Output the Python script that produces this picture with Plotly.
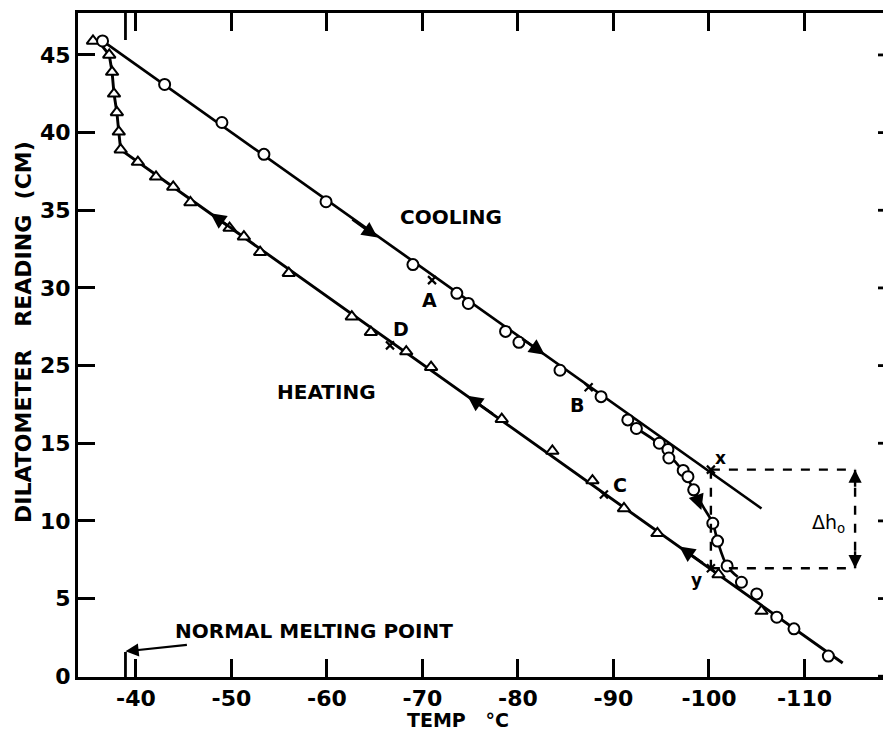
import plotly.graph_objects as go

# ---------------- data ----------------
# y values are in the chart's own vertical units (tick k sits at 5*k); printed tick labels below
y_tickvals = [0, 5, 10, 15, 20, 25, 30, 35, 40]
y_ticktext = ["0", "5", "10", "15", "25", "30", "35", "40", "45"]
x_tickvals = [-40, -50, -60, -70, -80, -90, -100, -110]
x_ticktext = ["-40", "-50", "-60", "-70", "-80", "-90", "-100", "-110"]

# cooling observations (circles)
cool_T = [-36.5, -43.0, -49.0, -53.4, -59.9, -69.0, -73.6, -74.8, -78.7, -80.1, -84.4,
          -88.7, -91.5, -92.4, -94.8, -95.7, -95.8, -97.3, -97.8, -98.4, -100.4, -100.9,
          -101.9, -103.4, -105.0, -107.1, -108.9, -112.5]
cool_h = [40.9, 38.1, 35.65, 33.6, 30.55, 26.5, 24.65, 24.0, 22.2, 21.5, 19.7,
          18.0, 16.5, 15.95, 15.0, 14.6, 14.05, 13.25, 12.85, 12.0, 9.85, 8.7,
          7.1, 6.05, 5.3, 3.8, 3.05, 1.3]

# heating observations (triangles)
heat_T = [-35.5, -37.2, -37.5, -37.7, -38.0, -38.2, -38.4, -40.2, -42.1, -43.9, -45.7,
          -49.8, -51.3, -53.0, -56.0, -62.6, -64.6, -68.3, -70.9, -78.3, -83.6, -87.8,
          -91.1, -94.6, -101.0, -105.5]
heat_h = [40.9, 40.0, 38.9, 37.5, 36.3, 35.05, 33.9, 33.1, 32.15, 31.5, 30.5,
          28.85, 28.3, 27.3, 25.95, 23.15, 22.15, 20.9, 19.9, 16.55, 14.5, 12.6,
          10.8, 9.2, 6.55, 4.2]

# drawn lines
cool_line_T = [-36.5, -105.5]
cool_line_h = [40.9, 10.8]
cool_curve_T = [-92.4, -94.8, -96.2, -97.4, -98.4, -99.4, -100.4, -100.9, -101.9, -103.0]
cool_curve_h = [15.95, 14.95, 14.0, 13.1, 12.0, 10.9, 9.85, 8.7, 7.1, 6.4]
heat_line_T = [-114.0, -38.4, -38.2, -38.0, -37.7, -37.5, -37.2, -36.3]
heat_line_h = [0.85, 33.9, 35.05, 36.3, 37.5, 38.9, 40.0, 40.7]

# labelled points
pt_names = ["A", "B", "C", "D", "x", "y"]
pt_T = [-71.0, -87.4, -89.0, -66.6, -100.2, -100.2]
pt_h = [25.5, 18.6, 11.7, 21.3, 13.3, 6.95]

melting_point = -38.9
box_right_T = -115.3

# direction arrows (tip, tail)
cool_arrows = [(-65.3, 28.25, -62.5, 29.47), (-82.8, 20.7, -80.3, 21.79), (-99.2, 10.7, -98.6, 11.75)]
heat_arrows = [(-47.8, 29.8, -50.5, 28.62), (-74.7, 18.05, -77.5, 16.83), (-96.9, 8.35, -99.5, 7.22)]

FONT = "DejaVu Sans"
fig = go.Figure()

# lines
fig.add_trace(go.Scatter(x=cool_line_T, y=cool_line_h, mode="lines",
                         line=dict(color="black", width=2.7), hoverinfo="skip"))
fig.add_trace(go.Scatter(x=cool_curve_T, y=cool_curve_h, mode="lines",
                         line=dict(color="black", width=2.7, shape="spline"), hoverinfo="skip"))
fig.add_trace(go.Scatter(x=heat_line_T, y=heat_line_h, mode="lines",
                         line=dict(color="black", width=2.9), hoverinfo="skip"))

# markers
fig.add_trace(go.Scatter(x=heat_T, y=heat_h, mode="markers",
                         marker=dict(symbol="triangle-up", size=11, color="white",
                                     line=dict(color="black", width=2))))
fig.add_trace(go.Scatter(x=cool_T, y=cool_h, mode="markers",
                         marker=dict(symbol="circle", size=11, color="white",
                                     line=dict(color="black", width=2))))
fig.add_trace(go.Scatter(x=pt_T, y=pt_h, mode="markers",
                         marker=dict(symbol="x-thin", size=8, color="black",
                                     line=dict(color="black", width=2.2))))

shapes = []
dash = dict(color="black", width=2.4, dash="dash")
shapes.append(dict(type="line", x0=pt_T[4], x1=box_right_T, y0=pt_h[4], y1=pt_h[4], line=dash))
shapes.append(dict(type="line", x0=pt_T[5], x1=box_right_T, y0=pt_h[5], y1=pt_h[5], line=dash))
shapes.append(dict(type="line", x0=pt_T[4], x1=pt_T[4], y0=pt_h[4], y1=pt_h[5], line=dash))
shapes.append(dict(type="line", x0=box_right_T, x1=box_right_T, y0=pt_h[4], y1=pt_h[5], line=dash))
# melting-point ticks (bottom and top)
shapes.append(dict(type="line", x0=melting_point, x1=melting_point, yref="paper", y0=0, y1=25/664,
                   line=dict(color="black", width=2.8)))
shapes.append(dict(type="line", x0=melting_point, x1=melting_point, yref="paper", y0=1, y1=1-27/664,
                   line=dict(color="black", width=2.8)))
# right-side ticks
for v in y_tickvals:
    shapes.append(dict(type="line", xref="paper", x0=1-13/813, x1=1, y0=v, y1=v,
                       line=dict(color="black", width=2.8)))

ann = []
lab_font = dict(family=FONT, size=19, color="black", weight="bold")
small_font = dict(family=FONT, size=17, color="black", weight="bold")
offsets = {"A": (-3, -20), "B": (-12, -18), "C": (16, 10), "D": (11, 16), "x": (10, 12), "y": (-14, -12)}
for n, t, h in zip(pt_names, pt_T, pt_h):
    dx, dy = offsets[n]
    ann.append(dict(x=t, y=h, text=n, showarrow=False, xshift=dx, yshift=dy,
                    xanchor="center", yanchor="middle",
                    font=small_font if n in ("x", "y") else lab_font))

for (tx, ty, sx, sy) in cool_arrows + heat_arrows:
    ann.append(dict(x=tx, y=ty, ax=sx, ay=sy, axref="x", ayref="y", text="", showarrow=True,
                    arrowhead=2, arrowsize=1.2, arrowwidth=2.6, arrowcolor="black"))

# double-headed Δh arrow heads
ann.append(dict(x=box_right_T, y=pt_h[4], ax=box_right_T, ay=pt_h[4] - 1.2, axref="x", ayref="y",
                text="", showarrow=True, arrowhead=2, arrowsize=1.1, arrowwidth=2.4, arrowcolor="black"))
ann.append(dict(x=box_right_T, y=pt_h[5], ax=box_right_T, ay=pt_h[5] + 1.2, axref="x", ayref="y",
                text="", showarrow=True, arrowhead=2, arrowsize=1.1, arrowwidth=2.4, arrowcolor="black"))
ann.append(dict(x=-112.5, y=9.85, text="Δh<sub>o</sub>", showarrow=False,
                xanchor="center", yanchor="middle",
                font=dict(family=FONT, size=19, color="black")))

ann.append(dict(x=-73.0, y=29.55, text="COOLING", showarrow=False,
                xanchor="center", yanchor="middle", font=dict(family=FONT, size=20, color="black", weight="bold")))
ann.append(dict(x=-59.9, y=18.3, text="HEATING", showarrow=False,
                xanchor="center", yanchor="middle", font=dict(family=FONT, size=20, color="black", weight="bold")))
ann.append(dict(x=melting_point, y=1.6, text="NORMAL MELTING POINT", showarrow=True,
                ax=189, ay=-20, arrowhead=2, arrowsize=1.2, arrowwidth=2.2, arrowcolor="black",
                font=dict(family=FONT, size=20, color="black", weight="bold")))

# axis titles
NB = "\u00a0"
ann.append(dict(xref="paper", yref="paper", x=(405-78)/813, y=(677-720)/664,
                text="TEMP" + NB * 3 + "°C", xanchor="left", yanchor="middle",
                showarrow=False, font=dict(family=FONT, size=19, color="black", weight="bold")))
ann.append(dict(xref="paper", yref="paper", x=(23-78)/813, y=(677-332)/664,
                text="DILATOMETER" + NB * 3 + "READING" + NB * 2 + "(CM)",
                textangle=-90, showarrow=False, xanchor="center", yanchor="middle",
                font=dict(family=FONT, size=22, color="black", weight="bold")))

# page body has an 8px margin, so the figure is shifted back by that amount
fig.update_layout(
    width=883, height=728,
    margin=dict(l=70, r=0, t=5, b=59),
    paper_bgcolor="white", plot_bgcolor="white",
    showlegend=False,
    shapes=shapes, annotations=ann,
    font=dict(family=FONT, color="black"),
)
fig.update_xaxes(range=[-33.93, -119.06], tickvals=x_tickvals, ticktext=x_ticktext,
                 showgrid=False, zeroline=False, showline=True, linecolor="black", linewidth=3,
                 mirror="ticks", ticks="inside", ticklen=18, tickwidth=2.8, tickcolor="black",
                 automargin=False,
                 tickfont=dict(family=FONT, size=22, color="black", weight="bold"))
fig.update_yaxes(range=[-0.05, 42.7], tickvals=y_tickvals, ticktext=y_ticktext,
                 showgrid=False, zeroline=False, showline=True, linecolor="black", linewidth=3,
                 ticks="inside", ticklen=17, tickwidth=2.8, tickcolor="black",
                 automargin=False,
                 tickfont=dict(family=FONT, size=22, color="black", weight="bold"))

fig.write_html("out.html")
